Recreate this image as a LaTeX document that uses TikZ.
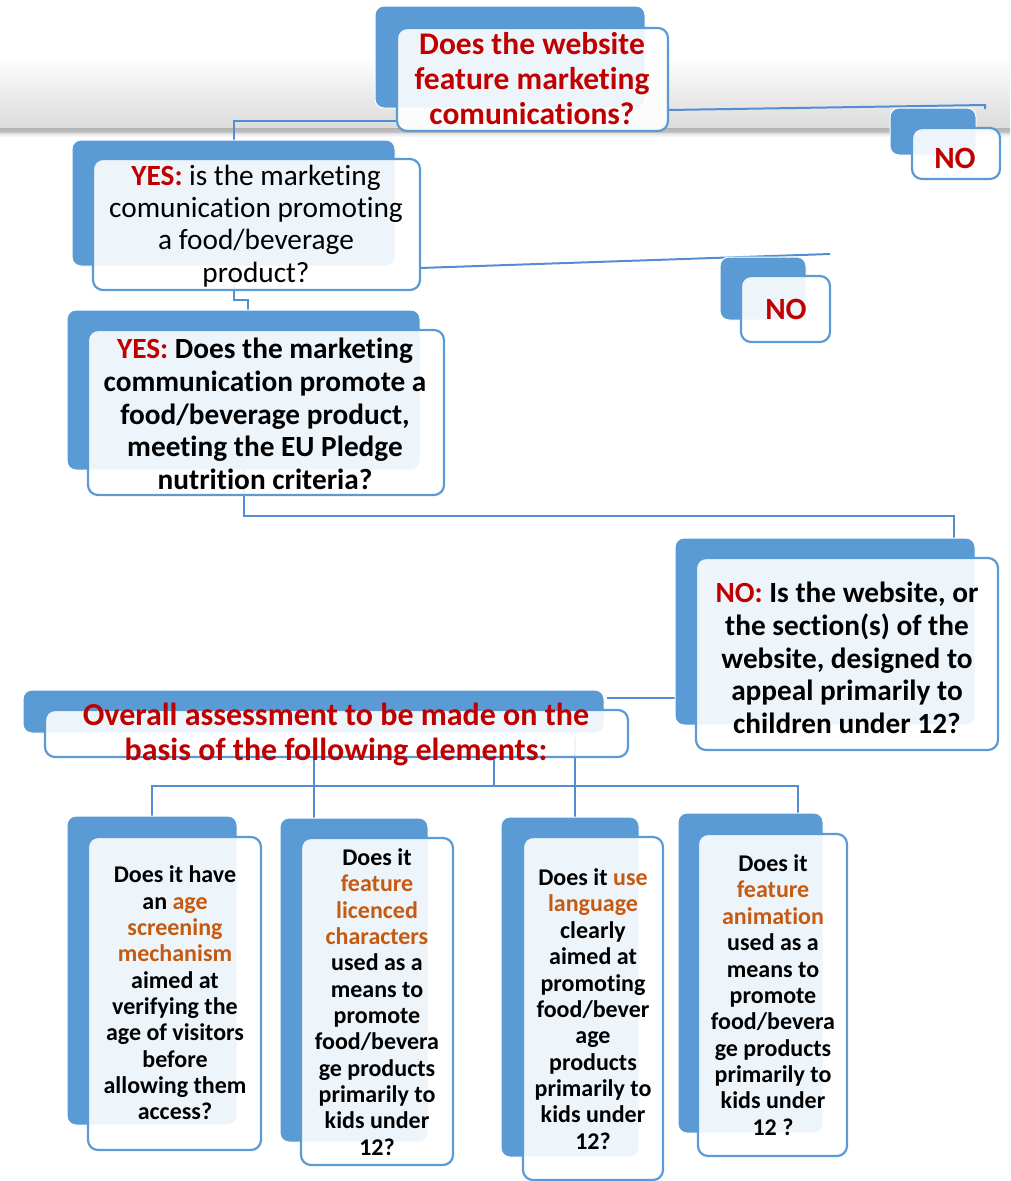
\documentclass[tikz,border=0pt]{standalone}
\usepackage{fontspec}
\setmainfont{Carlito}[Ligatures={NoCommon,NoRequired,NoContextual}, RawFeature={-liga;-clig;-calt;-dlig}]
\definecolor{boxblue}{HTML}{5B9BD5}
\definecolor{connblue}{HTML}{548DD4}
\definecolor{qred}{HTML}{C00000}
\definecolor{qorange}{HTML}{C55A11}
\newcommand{\hl}[1]{{\color{qorange}#1}}
\newcommand{\rd}[1]{{\color{qred}#1}}
\pgfdeclarelayer{bg}
\pgfsetlayers{bg,main}
\begin{document}
\begin{tikzpicture}[x=1pt,y=-1pt,
  backbox/.style={fill=boxblue, draw=white, line width=1pt, rounded corners=9pt, inner sep=0pt, outer sep=0pt},
  frontbox/.style={fill=white, fill opacity=0.9, draw=boxblue, draw opacity=1, line width=2.2pt, rounded corners=10pt, inner sep=0pt, outer sep=0pt},
  conn/.style={draw=connblue, line width=2pt},
  toptxt/.style={align=center, inner sep=0pt, text=qred, font=\bfseries\fontsize{31.5}{35}\selectfont},
  ovtxt/.style={align=center, inner sep=0pt, text=qred, font=\bfseries\fontsize{32}{35}\selectfont},
  regtxt/.style={align=center, inner sep=0pt, text=black, font=\fontsize{29.3}{32.3}\selectfont},
  boldtxt/.style={align=center, inner sep=0pt, text=black, font=\bfseries\fontsize{29.3}{32.6}\selectfont},
  notxt/.style={align=center, inner sep=0pt, text=qred, font=\bfseries\fontsize{31}{35}\selectfont},
  smalltxt/.style={align=center, inner sep=0pt, text=black, font=\bfseries\fontsize{24}{26.35}\selectfont}
]
\useasboundingbox (0,0) rectangle (1010,1181);

% box geometry (back, front)
\node[backbox, minimum width=270, minimum height=102] (b1b) at (510,57) {};
\node[frontbox, minimum width=271, minimum height=103] (b1f) at (532.5,79.5) {};
\node[backbox, minimum width=86, minimum height=47] (n1b) at (933,131.5) {};
\node[frontbox, minimum width=88, minimum height=51] (n1f) at (956,153.5) {};
\node[backbox, minimum width=323, minimum height=126] (b2b) at (233.5,203) {};
\node[frontbox, minimum width=327, minimum height=131] (b2f) at (256.5,224.5) {};
\node[backbox, minimum width=86, minimum height=63] (n2b) at (763,288.5) {};
\node[frontbox, minimum width=89, minimum height=66] (n2f) at (785.5,309) {};
\node[backbox, minimum width=353, minimum height=160] (b3b) at (243.5,390) {};
\node[frontbox, minimum width=356, minimum height=165] (b3f) at (266,412.5) {};
\node[backbox, minimum width=300, minimum height=187] (b4b) at (825,631.5) {};
\node[frontbox, minimum width=302, minimum height=192] (b4f) at (847,654) {};
\node[backbox, minimum width=581, minimum height=43] (ovb) at (313.5,711.5) {};
\node[frontbox, minimum width=583, minimum height=47] (ovf) at (336.5,733.5) {};
\node[backbox, minimum width=170, minimum height=309] (ab) at (152,970.5) {};
\node[frontbox, minimum width=173, minimum height=313] (af) at (174.5,993.5) {};
\node[backbox, minimum width=148, minimum height=324] (bb) at (354,980) {};
\node[frontbox, minimum width=152, minimum height=327] (bf) at (377,1001.5) {};
\node[backbox, minimum width=138, minimum height=340] (cb) at (570,987) {};
\node[frontbox, minimum width=140, minimum height=343] (cf) at (593,1008.5) {};
\node[backbox, minimum width=145, minimum height=320] (db) at (750.5,973) {};
\node[frontbox, minimum width=149, minimum height=322] (df) at (772.5,995) {};

% texts
\node[toptxt] (t1) at (532,79) {Does the website\\feature marketing\\comunications?};
\node[notxt] (tn1) at (955,158) {NO};
\node[regtxt] (t2) at (256,226) {\rd{\bfseries YES:} is the marketing\\comunication promoting\\a food/beverage\\product?};
\node[notxt] (tn2) at (786,309) {NO};
\node[boldtxt] (t3) at (265,414) {\rd{YES:} Does the marketing\\communication promote a\\food/beverage product,\\meeting the EU Pledge\\nutrition criteria?};
\node[boldtxt] (t4) at (847,658) {\rd{NO:} Is the website, or\\the section(s) of the\\website, designed to\\appeal primarily to\\children under 12?};
\node[ovtxt] (tov) at (336,734) {Overall assessment to be made on the\\basis of the following elements:};
\node[smalltxt] (ta) at (175,993) {Does it have\\an \hl{age}\\\hl{screening}\\\hl{mechanism}\\aimed at\\verifying the\\age of visitors\\before\\allowing them\\access?};
\node[smalltxt] (tb) at (377,1002) {Does it\\\hl{feature}\\\hl{licenced}\\\hl{characters}\\used as a\\means to\\promote\\food/bevera\\ge products\\primarily to\\kids under\\12?};
\node[smalltxt] (tc) at (593,1009) {Does it \hl{use}\\\hl{language}\\clearly\\aimed at\\promoting\\food/bever\\age\\products\\primarily to\\kids under\\12?};
\node[smalltxt] (td) at (773,995) {Does it\\\hl{feature}\\\hl{animation}\\used as a\\means to\\promote\\food/bevera\\ge products\\primarily to\\kids under\\12 ?};

% background: band and connectors
\begin{pgfonlayer}{bg}
\shade[top color=white, bottom color=black!14] (0,55) rectangle (1010,128);
\shade[top color=black!30, bottom color=black!22] (0,128) rectangle (1010,133);
\shade[top color=black!12, bottom color=white] (0,133) rectangle (1010,137);
\draw[conn] ([yshift=-41.5pt]b1f.west) -| (b2b.north);
\draw[conn] ([yshift=-30.5pt]b1f.east) -- ([xshift=9pt,yshift=3pt]n1b.north east) -- ++(0,4);
\draw[conn] ([yshift=-43.5pt]b2f.east) -- ([yshift=22pt]n2f.north east);
\draw[conn] (b2b.south) -- ++(0,34) -| ([xshift=4.5pt]b3b.north);
\draw[conn] (b3b.south) -- ++(0,46) -| ([xshift=-21pt]b4b.north east);
\draw[conn] ([yshift=-66.5pt]b4b.west) -- ([xshift=3pt,yshift=13.5pt]ovb.east);
\draw[conn] ([xshift=157.5pt,yshift=-3.5pt]ovf.center) -- ++(0,49);
\draw[conn] (ab.north) -- ++(0,-30) -| ([xshift=47.5pt]db.north);
\draw[conn] ([xshift=-40pt]bb.north) -- ++(0,-81);
\draw[conn] ([xshift=5pt]cb.north) -- ++(0,-80);
\end{pgfonlayer}
\end{tikzpicture}
\end{document}
